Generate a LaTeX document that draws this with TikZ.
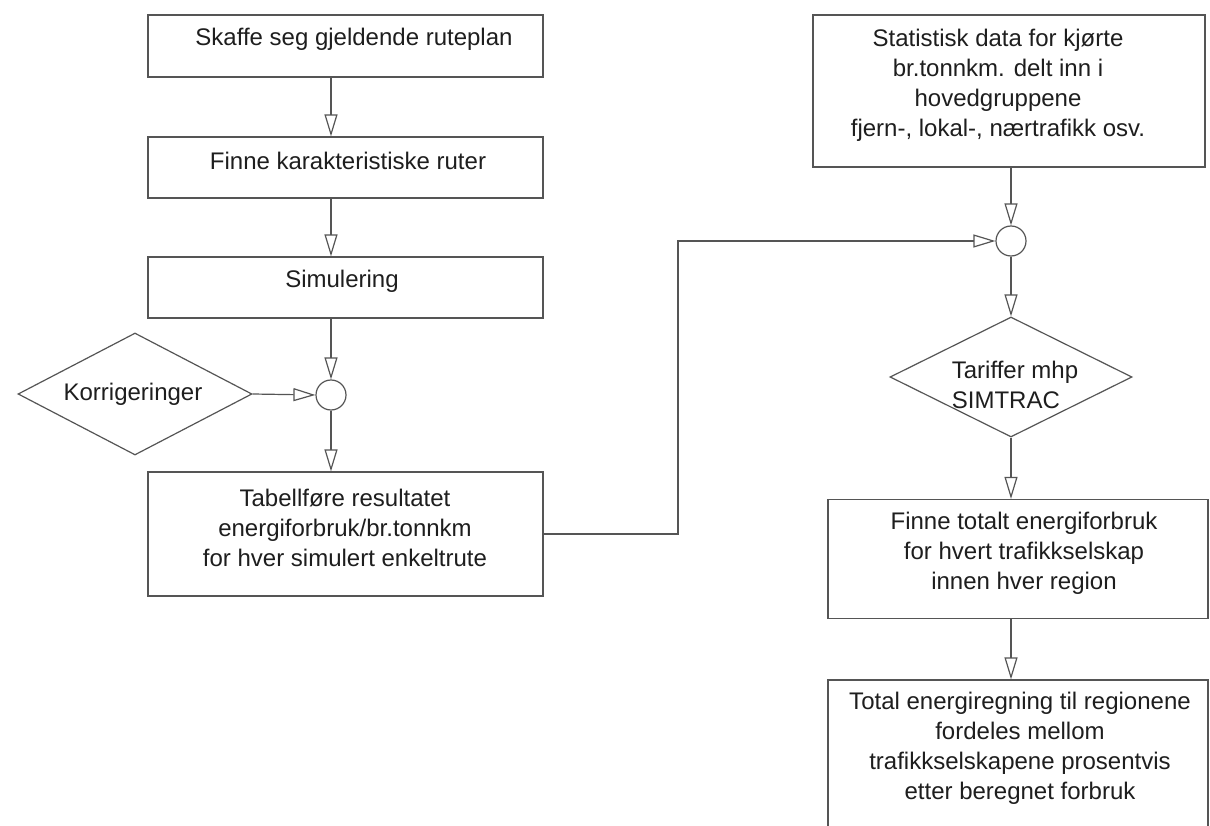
\documentclass[tikz,border=0pt]{standalone}
\usepackage{fontspec}
\setmainfont{Liberation Sans}
\usetikzlibrary{arrows.meta,shapes.geometric}
\definecolor{ln}{HTML}{555555}
\definecolor{tx}{HTML}{1E1E1E}
\begin{document}
\begin{tikzpicture}[x=1pt,y=-1pt,
  box/.style={draw=ln, line width=1.2pt, rectangle, inner sep=0pt},
  dia/.style={draw=ln, line width=1.2pt, diamond, inner sep=0pt},
  junc/.style={draw=ln, line width=1.2pt, circle, minimum size=30pt, inner sep=0pt},
  txt/.style={text=tx, font=\fontsize{24}{30}\selectfont, align=center, inner sep=0pt},
  arr/.style={draw=ln, line width=1.2pt, -{Triangle[open, length=22pt, width=13pt]}}]
\useasboundingbox (0,0) rectangle (1210,826);
\clip (0,0) rectangle (1210,826);
\fill[white] (0,0) rectangle (1210,826);
% left column
\node[box, minimum width=395pt, minimum height=62pt] (b1) at (345.5,46) {};
\node[txt] (t1) at (354,39) {Skaffe seg gjeldende ruteplan};
\node[box, minimum width=395pt, minimum height=61pt] (b2) at (345.5,167.5) {};
\node[txt] (t2) at (348,161) {Finne karakteristiske ruter};
\node[box, minimum width=395pt, minimum height=61pt] (b3) at (345.5,287.5) {};
\node[txt] (t3) at (342,281) {Simulering};
\node[junc] (c1) at (331,395) {};
\node[dia, minimum width=234pt, minimum height=122pt] (d1) at (135,394) {};
\node[txt] (t8) at (133,394) {Korrigeringer};
\node[box, minimum width=395pt, minimum height=124pt] (b4) at (345.5,534) {};
\node[txt] (t4) at (345,528) {Tabellføre resultatet\\energiforbruk/br.tonnkm\\for hver simulert enkeltrute};
% right column
\node[box, minimum width=392pt, minimum height=152pt] (b5) at (1009,91) {};
\node[txt] (t5) at (998,85) {Statistisk data for kjørte\\br.tonnkm. delt inn i\\hovedgruppene\\fjern-, lokal-, nærtrafikk osv.};
\node[junc] (c2) at (1011,241) {};
\node[dia, minimum width=242pt, minimum height=120pt] (d2) at (1011,377) {};
\node[txt, align=left] (t9) at (1015,385) {Tariffer mhp\\SIMTRAC};
\node[box, minimum width=380pt, minimum height=119pt] (b6) at (1018,559) {};
\node[txt] (t6) at (1024,553) {Finne totalt energiforbruk\\for hvert trafikkselskap\\innen hver region};
\node[box, minimum width=380pt, minimum height=160pt] (b7) at (1018,760) {};
\node[txt] (t7) at (1020,748) {Total energiregning til regionene\\fordeles mellom\\trafikkselskapene prosentvis\\etter beregnet forbruk};
% connectors
\coordinate (k) at (678,241);
\draw[arr] (b1.south -| c1) -- (b2.north -| c1);
\draw[arr] (b2.south -| c1) -- (b3.north -| c1);
\draw[arr] (b3.south -| c1) -- (c1.north);
\draw[arr] (d1.east) -- (c1.west);
\draw[arr] (c1.south) -- (b4.north -| c1);
\draw[arr] (b4.east) -| (k) -- (c2.west);
\draw[arr] (b5.south -| c2) -- (c2.north);
\draw[arr] (c2.south) -- (d2.north);
\draw[arr] (d2.south) -- (b6.north -| c2);
\draw[arr] (b6.south -| c2) -- (b7.north -| c2);
\end{tikzpicture}
\end{document}
